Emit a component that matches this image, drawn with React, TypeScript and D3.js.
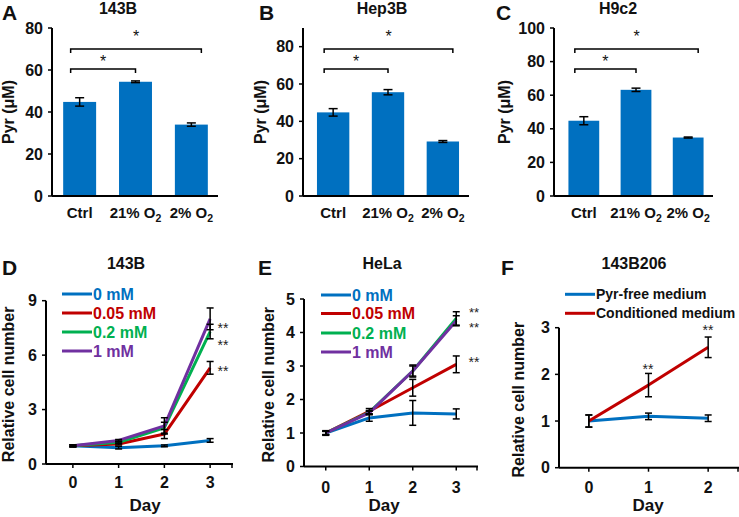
import React from "react";
import * as d3 from "d3";

// ---------- DATA ----------
const barCategories = ["Ctrl", "21% O2", "2% O2"];
const pyr143B = [44.8, 54.4, 34.0];
const pyr143BErr = [2.0, 0.4, 0.8];
const pyrHep3B = [44.8, 55.6, 29.2];
const pyrHep3BErr = [2.0, 1.4, 0.5];
const pyrH9c2 = [44.8, 63.2, 34.8];
const pyrH9c2Err = [2.4, 1.0, 0.3];
const barTicksA = [0, 20, 40, 60, 80];
const barTicksB = [0, 20, 40, 60, 80];
const barTicksC = [0, 20, 40, 60, 80, 100];

const days4 = ["0", "1", "2", "3"];
const days3 = ["0", "1", "2"];
const concLabels = ["0 mM", "0.05 mM", "0.2 mM", "1 mM"];
const mediumLabels = ["Pyr-free medium", "Conditioned medium"];

const d143B_0 = [1.0, 0.9, 1.0, 1.3];
const d143B_0Err = [0.05, 0.07, 0.05, 0.1];
const d143B_005 = [1.0, 1.1, 1.65, 5.3];
const d143B_005Err = [0.05, 0.05, 0.25, 0.35];
const d143B_02 = [1.0, 1.2, 2.0, 7.3];
const d143B_02Err = [0.05, 0.05, 0.3, 0.4];
const d143B_1 = [1.0, 1.3, 2.1, 8.0];
const d143B_1Err = [0.05, 0.05, 0.45, 0.6];
const ticksD = [0, 3, 6, 9];

const hela_0 = [1.0, 1.45, 1.6, 1.57];
const hela_0Err = [0.07, 0.1, 0.37, 0.15];
const hela_005 = [1.0, 1.65, 2.35, 3.05];
const hela_005Err = [0.05, 0.08, 0.25, 0.25];
const hela_02 = [1.0, 1.62, 2.85, 4.42];
const hela_02Err = [0.05, 0.05, 0.18, 0.2];
const hela_1 = [1.0, 1.6, 2.85, 4.35];
const hela_1Err = [0.05, 0.05, 0.15, 0.15];
const ticksE = [0, 1, 2, 3, 4, 5];

const f_pyrFree = [1.0, 1.1, 1.06];
const f_pyrFreeErr = [0.13, 0.07, 0.07];
const f_cond = [1.0, 1.77, 2.58];
const f_condErr = [0.13, 0.25, 0.22];
const ticksF = [0, 1, 2, 3];

// ---------- STYLE ----------
const FONT = "'Liberation Sans', Arial, Helvetica, sans-serif";
const BAR_COLOR = "#0070C0";
const C_BLUE = "#0070C0";
const C_RED = "#C00000";
const C_GREEN = "#00B050";
const C_PURPLE = "#7030A0";
const TXT = "#111";

function CatLabel({ label, x, y }: { label: string; x: number; y: number }) {
  if (label.endsWith("O2")) {
    const base = label.slice(0, -1);
    return (
      <text x={x} y={y} textAnchor="middle" fontSize={15} fontWeight="bold" fill={TXT}>
        {base}
        <tspan dy={4} fontSize={10.5}>2</tspan>
      </text>
    );
  }
  return (
    <text x={x} y={y} textAnchor="middle" fontSize={15} fontWeight="bold" fill={TXT}>
      {label}
    </text>
  );
}

type BarPanelProps = {
  axisX: number;
  axisRight: number;
  bandRange: [number, number];
  yDomain: [number, number];
  ticks: number[];
  values: number[];
  errs: number[];
  title: string;
  titleX: number;
  letter: string;
  letterX: number;
  ylabelX: number;
};

function BarPanel(p: BarPanelProps) {
  const y0 = 196;
  const yTop = 28;
  const x = d3.scaleBand<string>().domain(barCategories).range(p.bandRange).paddingInner(0.41).paddingOuter(0.2);
  const y = d3.scaleLinear().domain(p.yDomain).range([y0, yTop]);
  const c = (i: number) => (x(barCategories[i]) as number) + x.bandwidth() / 2;
  const lowL = c(0) - 9;
  const lowR = c(1);
  const upR = c(2) + 10;
  const lowY = 69;
  const upY = 49;
  return (
    <g>
      <text x={p.letterX} y={20} fontSize={21} fontWeight="bold" fill={TXT}>{p.letter}</text>
      <text x={p.titleX} y={14} textAnchor="middle" fontSize={16} fontWeight="bold" fill={TXT}>{p.title}</text>
      {barCategories.map((cat, i) => (
        <rect key={cat} x={x(cat)} y={y(p.values[i])} width={x.bandwidth()} height={y0 - y(p.values[i])} fill={BAR_COLOR} />
      ))}
      {barCategories.map((cat, i) => {
        const cx = c(i);
        const t = y(p.values[i] + p.errs[i]);
        const b = y(p.values[i] - p.errs[i]);
        return (
          <g key={"e" + cat} stroke="#000" strokeWidth={1.5}>
            <line x1={cx} x2={cx} y1={t} y2={b} />
            <line x1={cx - 4.5} x2={cx + 4.5} y1={t} y2={t} />
            <line x1={cx - 4.5} x2={cx + 4.5} y1={b} y2={b} />
          </g>
        );
      })}
      <line x1={p.axisX} x2={p.axisX} y1={yTop} y2={y0} stroke="#000" strokeWidth={2} />
      <line x1={p.axisX} x2={p.axisRight} y1={y0} y2={y0} stroke="#000" strokeWidth={2} />
      {p.ticks.map((t) => (
        <g key={t}>
          <line x1={p.axisX - 4} x2={p.axisX} y1={y(t)} y2={y(t)} stroke="#000" strokeWidth={1.5} />
          <text x={p.axisX - 9} y={y(t) + 5.5} textAnchor="end" fontSize={16} fontWeight="bold" fill={TXT}>{t}</text>
        </g>
      ))}
      {barCategories.map((cat, i) => (
        <CatLabel key={"l" + cat} label={cat} x={c(i)} y={218} />
      ))}
      <text transform={`translate(${p.ylabelX},${(y0 + yTop) / 2}) rotate(-90)`} textAnchor="middle" fontSize={16} fontWeight="bold" fill={TXT}>Pyr (μM)</text>
      <path d={`M${lowL},${lowY + 4}V${lowY}H${lowR}V${lowY + 4}`} fill="none" stroke="#000" strokeWidth={1.5} />
      <path d={`M${lowL},${upY + 4}V${upY}H${upR}V${upY + 4}`} fill="none" stroke="#000" strokeWidth={1.5} />
      <text x={(lowL + lowR) / 2} y={lowY - 2} textAnchor="middle" fontSize={16} fill={TXT}>*</text>
      <text x={(lowL + upR) / 2} y={upY - 7} textAnchor="middle" fontSize={16} fill={TXT}>*</text>
    </g>
  );
}

type Series = { label: string; color: string; values: number[]; errs: number[] };

type LinePanelProps = {
  axisX: number;
  axisRight: number;
  pointRange: [number, number];
  y0: number;
  yTop: number;
  yDomain: [number, number];
  ticks: number[];
  days: string[];
  series: Series[];
  title: string;
  titleX: number;
  letter: string;
  letterX: number;
  ylabelX: number;
  legendX: number;
  legendY: number[];
  legendColored: boolean;
  legendFont: number;
  stars: { x: number; y: number; size?: number }[];
  dayX: number;
  tickLabelY: number;
  capW: number;
};

function LinePanel(p: LinePanelProps) {
  const x = d3.scalePoint<string>().domain(p.days).range(p.pointRange).padding(0.5);
  const y = d3.scaleLinear().domain(p.yDomain).range([p.y0, p.yTop]);
  const line = d3
    .line<number>()
    .x((_, i) => x(p.days[i]) as number)
    .y((d) => y(d));
  return (
    <g>
      <text x={p.letterX} y={275} fontSize={21} fontWeight="bold" fill={TXT}>{p.letter}</text>
      <text x={p.titleX} y={269} textAnchor="middle" fontSize={16} fontWeight="bold" fill={TXT}>{p.title}</text>
      {p.series.map((s) => (
        <path key={s.label} d={line(s.values) || ""} fill="none" stroke={s.color} strokeWidth={3} strokeLinejoin="round" />
      ))}
      {p.series.map((s) =>
        s.values.map((v, i) => {
          const cx = x(p.days[i]) as number;
          const t = y(v + s.errs[i]);
          const b = y(v - s.errs[i]);
          const w = p.capW;
          return (
            <g key={s.label + i} stroke="#000" strokeWidth={1.5}>
              <line x1={cx} x2={cx} y1={t} y2={b} />
              <line x1={cx - w} x2={cx + w} y1={t} y2={t} />
              <line x1={cx - w} x2={cx + w} y1={b} y2={b} />
            </g>
          );
        })
      )}
      <line x1={p.axisX} x2={p.axisX} y1={p.yTop} y2={p.y0} stroke="#000" strokeWidth={2} />
      <line x1={p.axisX} x2={p.axisRight} y1={p.y0} y2={p.y0} stroke="#000" strokeWidth={2} />
      {p.ticks.map((t) => (
        <g key={t}>
          <line x1={p.axisX - 4} x2={p.axisX} y1={y(t)} y2={y(t)} stroke="#000" strokeWidth={1.5} />
          <text x={p.axisX - 9} y={y(t) + 5.5} textAnchor="end" fontSize={16} fontWeight="bold" fill={TXT}>{t}</text>
        </g>
      ))}
      {p.days.map((d) => (
        <g key={"d" + d}>
          <line x1={x(d)} x2={x(d)} y1={p.y0} y2={p.y0 + 4} stroke="#000" strokeWidth={1.5} />
          <text x={x(d)} y={p.tickLabelY} textAnchor="middle" fontSize={16} fontWeight="bold" fill={TXT}>{d}</text>
        </g>
      ))}
      <line x1={p.axisRight - 1} x2={p.axisRight - 1} y1={p.y0} y2={p.y0 + 4} stroke="#000" strokeWidth={1.5} />
      <text x={p.dayX} y={511} textAnchor="middle" fontSize={17} fontWeight="bold" fill={TXT}>Day</text>
      <text transform={`translate(${p.ylabelX},${(p.y0 + p.yTop) / 2 + 2}) rotate(-90)`} textAnchor="middle" fontSize={16} fontWeight="bold" fill={TXT}>Relative cell number</text>
      {p.series.map((s, i) => (
        <g key={"lg" + s.label}>
          <line x1={p.legendX} x2={p.legendX + 30} y1={p.legendY[i]} y2={p.legendY[i]} stroke={s.color} strokeWidth={3} />
          <text x={p.legendX + 31} y={p.legendY[i] + p.legendFont * 0.36} fontSize={p.legendFont} fontWeight="bold" fill={p.legendColored ? s.color : TXT}>{s.label}</text>
        </g>
      ))}
      {p.stars.map((s, i) => {
        const fs = s.size ?? 14;
        return (
          <text key={"s" + i} x={s.x} y={s.y + fs * 0.57} textAnchor="middle" fontSize={fs} fill="#222">**</text>
        );
      })}
    </g>
  );
}

export default function App() {
  const seriesD: Series[] = [
    { label: concLabels[0], color: C_BLUE, values: d143B_0, errs: d143B_0Err },
    { label: concLabels[1], color: C_RED, values: d143B_005, errs: d143B_005Err },
    { label: concLabels[2], color: C_GREEN, values: d143B_02, errs: d143B_02Err },
    { label: concLabels[3], color: C_PURPLE, values: d143B_1, errs: d143B_1Err },
  ];
  const seriesE: Series[] = [
    { label: concLabels[0], color: C_BLUE, values: hela_0, errs: hela_0Err },
    { label: concLabels[1], color: C_RED, values: hela_005, errs: hela_005Err },
    { label: concLabels[2], color: C_GREEN, values: hela_02, errs: hela_02Err },
    { label: concLabels[3], color: C_PURPLE, values: hela_1, errs: hela_1Err },
  ];
  const seriesF: Series[] = [
    { label: mediumLabels[0], color: C_BLUE, values: f_pyrFree, errs: f_pyrFreeErr },
    { label: mediumLabels[1], color: C_RED, values: f_cond, errs: f_condErr },
  ];
  return (
    <svg width={739} height={517} style={{ position: "absolute", left: 0, top: 0, background: "#fff" }} fontFamily={FONT}>
      <rect width={739} height={517} fill="#fff" />
      <BarPanel axisX={52} axisRight={218} bandRange={[52, 219]} yDomain={[0, 80]} ticks={barTicksA} values={pyr143B} errs={pyr143BErr}
        title="143B" titleX={118} letter="A" letterX={2} ylabelX={14} />
      <BarPanel axisX={303} axisRight={469} bandRange={[306, 470]} yDomain={[0, 90]} ticks={barTicksB} values={pyrHep3B} errs={pyrHep3BErr}
        title="Hep3B" titleX={382} letter="B" letterX={259} ylabelX={266} />
      <BarPanel axisX={554} axisRight={713} bandRange={[558, 714]} yDomain={[0, 100]} ticks={barTicksC} values={pyrH9c2} errs={pyrH9c2Err}
        title="H9c2" titleX={618} letter="C" letterX={496} ylabelX={510} />
      <LinePanel axisX={46} axisRight={233} pointRange={[50, 233]} y0={464} yTop={300.7} yDomain={[0, 9]} ticks={ticksD} days={days4}
        series={seriesD} title="143B" titleX={126} letter="D" letterX={2} ylabelX={14} legendX={62} legendY={[294, 313, 332, 351]}
        legendColored={true} legendFont={16} stars={[{ x: 223, y: 325 }, { x: 223, y: 342 }, { x: 223, y: 368 }]} dayX={145} tickLabelY={488} capW={3.5} />
      <LinePanel axisX={304} axisRight={478} pointRange={[304, 478]} y0={466.5} yTop={299} yDomain={[0, 5]} ticks={ticksE} days={days4}
        series={seriesE} title="HeLa" titleX={382} letter="E" letterX={258} ylabelX={274} legendX={321} legendY={[295, 313.5, 333, 352]}
        legendColored={true} legendFont={16} stars={[{ x: 474, y: 310, size: 13 }, { x: 474, y: 325, size: 13 }, { x: 474, y: 359 }]} dayX={384} tickLabelY={493} capW={3.5} />
      <LinePanel axisX={559} axisRight={739} pointRange={[559, 738]} y0={467.7} yTop={327.7} yDomain={[0, 3]} ticks={ticksF} days={days3}
        series={seriesF} title="143B206" titleX={634} letter="F" letterX={501} ylabelX={524} legendX={565} legendY={[294.3, 313.3]}
        legendColored={false} legendFont={14} stars={[{ x: 648, y: 366 }, { x: 708, y: 327 }]} dayX={648} tickLabelY={493} capW={3.5} />
    </svg>
  );
}
